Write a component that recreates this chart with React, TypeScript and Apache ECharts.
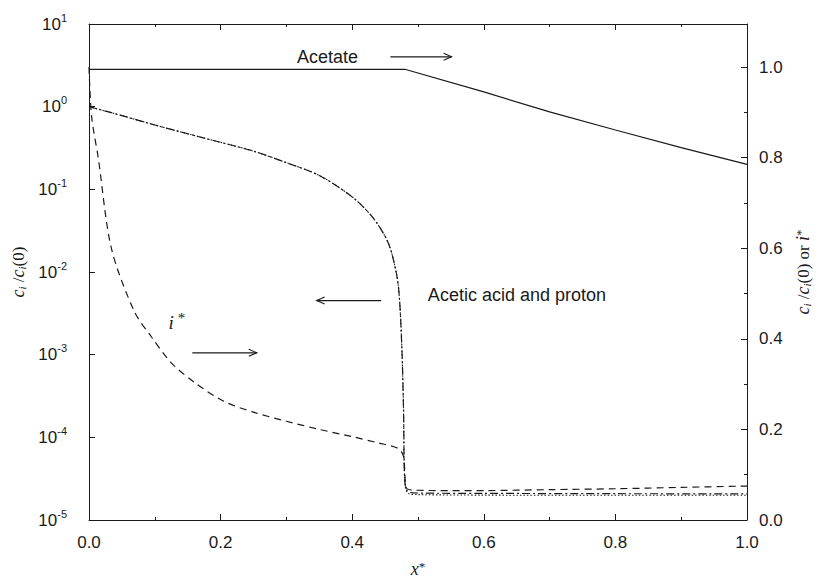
import React, { useEffect, useRef } from "react";
import * as echarts from "echarts";

// Acetate (linear, right axis)
const xAcetate = [0, 0.48, 0.6, 0.7, 0.8, 0.9, 1.0];
const acetate = [0.995, 0.995, 0.945, 0.901, 0.861, 0.822, 0.785];

// Dimensionless current density i* (linear, right axis)
const xCurrent = [0, 0.004, 0.014, 0.034, 0.069, 0.095, 0.125, 0.16, 0.205, 0.25, 0.3, 0.35, 0.4, 0.44, 0.47, 0.478, 0.482, 0.49, 0.55, 0.6, 0.7, 0.8, 0.9, 1.0];
const current = [1.0, 0.89, 0.8, 0.6, 0.46, 0.404, 0.347, 0.304, 0.262, 0.238, 0.218, 0.2, 0.184, 0.17, 0.158, 0.14, 0.072, 0.066, 0.065, 0.065, 0.067, 0.069, 0.072, 0.075];

// Acetic acid and proton (log, left axis)
const xAcid = [0, 0.05, 0.1, 0.15, 0.2, 0.25, 0.3, 0.35, 0.4, 0.43, 0.45, 0.46, 0.47, 0.475, 0.478, 0.48, 0.485, 0.5, 0.6, 0.8, 1.0];
const acid = [1.0, 0.78, 0.6, 0.47, 0.37, 0.29, 0.21, 0.147, 0.081, 0.047, 0.027, 0.017, 0.0069, 0.0015, 0.00022, 0.000029, 0.000022, 0.0000212, 0.000021, 0.0000208, 0.0000207];
const proton = [1.0, 0.78, 0.6, 0.47, 0.37, 0.29, 0.21, 0.147, 0.081, 0.047, 0.027, 0.017, 0.0069, 0.0015, 0.00022, 0.000028, 0.000021, 0.0000203, 0.00002, 0.0000199, 0.0000199];

// Tick settings
const xTicks = { min: 0, max: 1, interval: 0.2 };
const logTicks = { min: 1e-5, max: 10 };
const rightTicks = { min: 0, max: 1.095, interval: 0.2 };

// Annotations in (x*, right-axis value) coordinates
const labels = [
  { text: "Acetate", x: 0.3625, v: 1.0225, align: "center" },
  { text: "Acetic acid and proton", x: 0.515, v: 0.497, align: "left" },
];
const arrows = [
  { from: [0.458, 1.0225], to: [0.551, 1.0225] },
  { from: [0.444, 0.4845], to: [0.346, 0.4845] },
  { from: [0.157, 0.369], to: [0.255, 0.369] },
];
const iStarLabel = { x: 0.121, v: 0.435 };

const INK = "#1a1a1a";
const SANS = "Liberation Sans, Arial, sans-serif";
const SERIF = "Liberation Serif, Times New Roman, serif";

const pairs = (xs: number[], ys: number[]) => xs.map((x, i) => [x, ys[i]]);

const axisCommon = {
  axisLine: { show: true, onZero: false, lineStyle: { color: INK, width: 1 } },
  axisTick: { show: true, inside: true, length: 6, lineStyle: { color: INK } },
  splitLine: { show: false },
};

const nameRich = {
  it: { fontFamily: SERIF, fontStyle: "italic", fontSize: 18, color: INK },
  n: { fontFamily: SERIF, fontSize: 17, color: INK },
  sub: { fontFamily: SERIF, fontStyle: "italic", fontSize: 11, color: INK, verticalAlign: "bottom", lineHeight: 14 },
  sup: { fontFamily: SERIF, fontSize: 13, color: INK, verticalAlign: "top", lineHeight: 12 },
};

export default function App() {
  const ref = useRef<HTMLDivElement>(null);

  useEffect(() => {
    if (!ref.current) return;
    const chart = echarts.init(ref.current, null, { renderer: "svg" });

    chart.setOption({
      animation: false,
      backgroundColor: "#ffffff",
      grid: { left: 89, right: 69, top: 24, bottom: 48, containLabel: false },
      xAxis: [
        {
          type: "value",
          position: "bottom",
          ...xTicks,
          ...axisCommon,
          minorTick: { show: true, splitNumber: 2, length: 3, lineStyle: { color: INK } },
          axisLabel: {
            formatter: (v: number) => v.toFixed(1),
            fontFamily: SANS,
            fontSize: 17,
            color: INK,
            margin: 14,
          },
          name: "{it|x}{sup|*}",
          nameLocation: "middle",
          nameGap: 40,
          nameTextStyle: { rich: nameRich },
        },
        {
          type: "value",
          position: "top",
          ...xTicks,
          ...axisCommon,
          minorTick: { show: true, splitNumber: 2, length: 3, lineStyle: { color: INK } },
          axisLabel: { show: false },
        },
      ],
      yAxis: [
        {
          type: "log",
          logBase: 10,
          position: "left",
          ...logTicks,
          splitNumber: 6,
          ...axisCommon,
          axisLabel: {
            margin: 22,
            formatter: (v: number) => `{b|10}{s|${Math.round(Math.log10(v))}}`,
            rich: {
              b: { fontFamily: SANS, fontSize: 17, color: INK, lineHeight: 24 },
              s: { fontFamily: SANS, fontSize: 11, color: INK, verticalAlign: "top", lineHeight: 12 },
            },
          },
          name: "{it|c}{sub|i}{n| /}{it|c}{sub|i}{n|(0)}",
          nameLocation: "middle",
          nameRotate: 90,
          nameGap: 50,
          nameTextStyle: { rich: nameRich },
        },
        {
          type: "value",
          position: "right",
          ...rightTicks,
          ...axisCommon,
          minorTick: { show: true, splitNumber: 2, length: 3, lineStyle: { color: INK } },
          axisLabel: {
            showMaxLabel: false,
            formatter: (v: number) => v.toFixed(1),
            fontFamily: SANS,
            fontSize: 17,
            color: INK,
            margin: 12,
          },
          name: "{it|c}{sub|i}{n| /}{it|c}{sub|i}{n|(0) or }{it|i}{sup|*}",
          nameLocation: "middle",
          nameRotate: 90,
          nameGap: 47,
          nameTextStyle: { rich: nameRich },
        },
      ],
      series: [
        {
          name: "Acetate",
          type: "line",
          xAxisIndex: 0,
          yAxisIndex: 1,
          showSymbol: false,
          data: pairs(xAcetate, acetate),
          lineStyle: { color: INK, width: 1.2, type: "solid" },
        },
        {
          name: "i*",
          type: "line",
          xAxisIndex: 0,
          yAxisIndex: 1,
          showSymbol: false,
          smooth: 0.3,
          data: pairs(xCurrent, current),
          lineStyle: { color: INK, width: 1.2, type: [7, 5] },
        },
        {
          name: "Acetic acid",
          type: "line",
          xAxisIndex: 0,
          yAxisIndex: 0,
          showSymbol: false,
          smooth: 0.3,
          data: pairs(xAcid, acid),
          lineStyle: { color: INK, width: 1.2, type: [8, 3, 2, 3] },
        },
        {
          name: "Proton",
          type: "line",
          xAxisIndex: 0,
          yAxisIndex: 0,
          showSymbol: false,
          smooth: 0.3,
          data: pairs(xAcid, proton),
          lineStyle: { color: INK, width: 1.1, type: [1.5, 2] },
        },
      ],
    });

    const toPx = (x: number, v: number) =>
      chart.convertToPixel({ xAxisIndex: 0, yAxisIndex: 1 }, [x, v]) as number[];

    const graphics: any[] = [];
    labels.forEach((l) => {
      const [px, py] = toPx(l.x, l.v);
      graphics.push({
        type: "text",
        x: px,
        y: py,
        style: {
          text: l.text,
          fontFamily: SANS,
          fontSize: 18,
          fill: INK,
          align: l.align,
          verticalAlign: "middle",
        },
      });
    });
    arrows.forEach((a) => {
      const [x1, y1] = toPx(a.from[0], a.from[1]);
      const [x2, y2] = toPx(a.to[0], a.to[1]);
      const dir = x2 > x1 ? 1 : -1;
      graphics.push({
        type: "line",
        shape: { x1, y1, x2, y2 },
        style: { stroke: INK, lineWidth: 1.2 },
      });
      graphics.push({
        type: "polyline",
        shape: { points: [[x2 - dir * 8, y2 - 3.5], [x2, y2], [x2 - dir * 8, y2 + 3.5]] },
        style: { stroke: INK, fill: "none", lineWidth: 1.1 },
      });
    });
    {
      const [px, py] = toPx(iStarLabel.x, iStarLabel.v);
      graphics.push({
        type: "text",
        x: px,
        y: py,
        style: {
          text: "{i|i}{s| *}",
          align: "left",
          verticalAlign: "middle",
          rich: {
            i: { fontFamily: SERIF, fontStyle: "italic", fontSize: 19, fill: INK, lineHeight: 24 },
            s: { fontFamily: SERIF, fontSize: 15, fill: INK, verticalAlign: "top", lineHeight: 14 },
          },
        },
      });
    }
    chart.setOption({ graphic: graphics });

    return () => chart.dispose();
  }, []);

  return (
    <div
      ref={ref}
      style={{ position: "fixed", left: 0, top: 0, width: 820, height: 583, background: "#fff" }}
    />
  );
}
